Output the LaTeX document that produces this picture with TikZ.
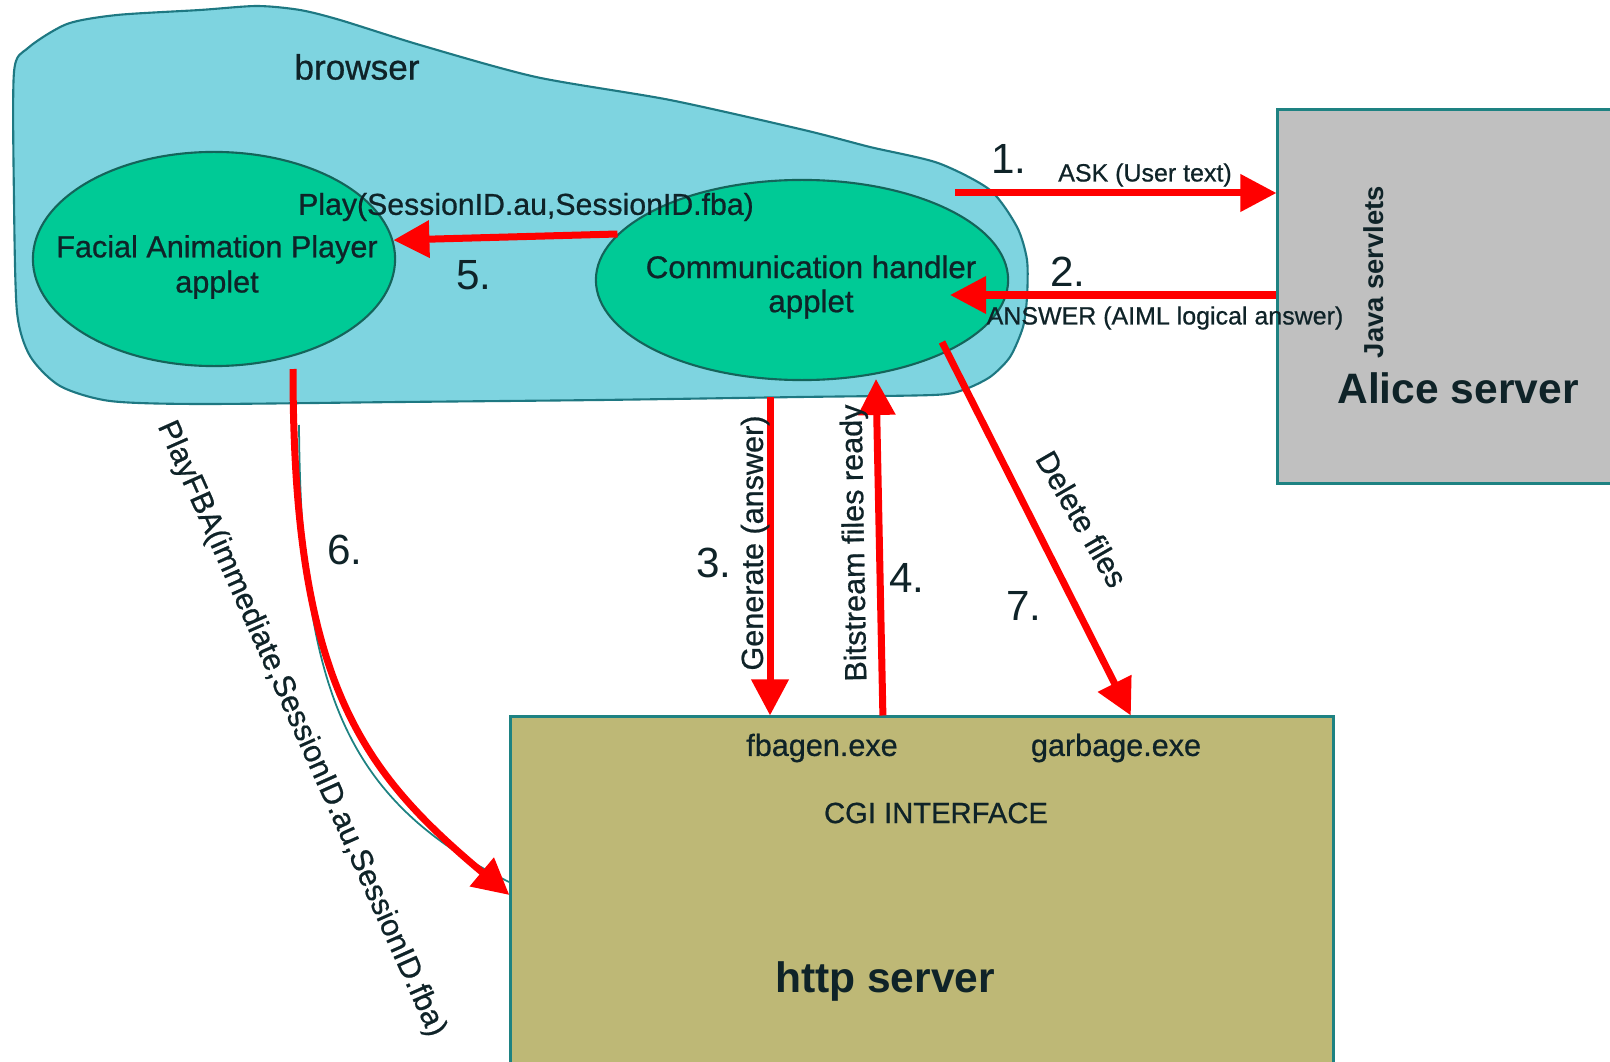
\documentclass[tikz,border=0pt]{standalone}
\usepackage{fontspec}
\setmainfont{Liberation Sans}
\newfontfamily\medfont{Liberation Sans}[FakeBold=0.7]
\usetikzlibrary{arrows.meta,shapes.geometric,calc}
\definecolor{blobfill}{RGB}{126,212,224}
\definecolor{blobline}{RGB}{30,120,130}
\definecolor{ellfill}{RGB}{0,202,150}
\definecolor{ellline}{RGB}{20,100,90}
\definecolor{alicefill}{RGB}{192,192,192}
\definecolor{httpfill}{RGB}{190,184,118}
\definecolor{boxline}{RGB}{30,130,130}
\definecolor{txt}{RGB}{15,35,40}
\definecolor{arr}{RGB}{255,0,0}
\begin{document}
\begin{tikzpicture}[x=0.01cm,y=-0.01cm,
  lbl/.style={font=\medfont\fontsize{8.7}{10}\selectfont, text=txt, inner sep=0pt},
  small/.style={font=\medfont\fontsize{7.1}{8}\selectfont, text=txt, inner sep=0pt},
  num/.style={font=\fontsize{12}{14}\selectfont, text=txt, inner sep=0pt},
  big/.style={font=\fontsize{12.1}{14}\selectfont\bfseries, text=txt, inner sep=0pt},
  appl/.style={ellipse, draw=ellline, line width=0.6pt, fill=ellfill, inner sep=0pt},
  srv/.style={rectangle, draw=boxline, line width=0.8pt, inner sep=0pt},
  redarrow/.style={draw=arr, line width=0.07cm, -{Triangle[length=0.36cm,width=0.36cm]}},
  thin/.style={draw=boxline, line width=0.5pt}
]
\useasboundingbox (0,0) rectangle (1610,1061);
\clip (0,0) rectangle (1610,1061);
\fill[white] (0,0) rectangle (1610,1061);

% browser blob
\draw[blobline, fill=blobfill, line width=0.6pt] plot[smooth cycle, tension=0.45] coordinates {
 (14,200) (14,72) (28,48) (67,24) (117,15) (200,10) (257,6) (300,10) (340,20)
 (420,45) (536,77) (670,100) (804,130) (870,147) (938,163) (990,190) (1017,227)
 (1027,260) (1027,297) (1023,327) (1010,357) (990,377) (963,390) (933,395)
 (800,397) (600,400) (400,402) (200,404) (110,401) (60,386) (30,356) (17,312)};
\node[lbl, font=\medfont\fontsize{10}{12}\selectfont] (browser) at (357,67) {browser};

% applets
\node[appl, minimum width=3.62cm, minimum height=2.14cm] (fap) at (214,259) {};
\node[appl, minimum width=4.12cm, minimum height=2.0cm] (ch) at (802,280) {};
\node[lbl, align=center] (faptxt) at (217,267) {Facial Animation Player\\applet};
\node[lbl, align=center, font=\medfont\fontsize{8.9}{9.7}\selectfont] (chtxt) at (811,287) {Communication handler\\applet};

% servers
\node[srv, fill=alicefill, minimum width=4.22cm, minimum height=3.73cm] (alice) at (1489,296.5) {};
\node[srv, fill=httpfill, minimum width=8.22cm, minimum height=3.83cm] (http) at (922,908.5) {};
\node[lbl, rotate=90, font=\fontsize{7.8}{9}\selectfont\bfseries] (java) at (1374,272) {Java servlets};
\node[big] (alicetxt) at (1458,388) {Alice server};
\node[big] (httptxt) at (885,981) {http server};
\node[lbl] (fbagen) at (822,748) {fbagen.exe};
\node[lbl] (garbage) at (1116,748) {garbage.exe};
\node[lbl, font=\medfont\fontsize{8.3}{10}\selectfont] (cgi) at (936,813) {CGI INTERFACE};

% connectors
\coordinate (a1s) at (955,193);
\draw[redarrow] (a1s) -- (alice.west |- a1s);
\coordinate (a2e) at (950,295);
\draw[redarrow] (alice.west |- a2e) -- (a2e);
\draw[redarrow] (ch.166.5) -- (fap.6.7);
\coordinate (a3s) at (770,397);
\draw[redarrow] (a3s) -- (a3s |- http.north);
\coordinate (a4e) at (876,379);
\draw[redarrow] ($(http.north west)!0.4526!(http.north east)$) -- (a4e);
\coordinate (a7s) at (942,342);
\draw[redarrow] (a7s) -- ($(http.north west)!0.753!(http.north east)$);
\coordinate (a6s) at (293,369);
\coordinate (a6e) at ($(http.north west)!0.465!(http.south west)$);
\coordinate (tealend) at (509,882);
\draw[thin] (299,425) .. controls (301,690) and (345,800) .. (tealend);
\draw[redarrow] (a6s) .. controls (293,680) and (360,770) .. (a6e);

% labels
\node[lbl, font=\medfont\fontsize{8.6}{10}\selectfont] (play) at (526,207) {Play(SessionID.au,SessionID.fba)};
\node[num] (n5) at (474,275) {5.};
\node[num] (n1) at (1009,159) {1.};
\node[small] (ask) at (1145,175) {ASK (User text)};
\node[num] (n2) at (1068,272) {2.};
\node[small] (answer) at (1165,318) {ANSWER (AIML logical answer)};
\node[num] (n3) at (714,563) {3.};
\node[lbl, rotate=90] (gen) at (755,543) {Generate (answer)};
\node[num] (n4) at (907,578) {4.};
\node[lbl, rotate=91] (bits) at (856,543) {Bitstream files ready};
\node[num] (n7) at (1024,606) {7.};
\node[lbl, rotate=-60] (del) at (1082,519) {Delete files};
\node[num] (n6) at (345,550) {6.};
\node[lbl, rotate=-66] (playfba) at (301,729) {PlayFBA(immediate,SessionID.au,SessionID.fba)};
\end{tikzpicture}
\end{document}
